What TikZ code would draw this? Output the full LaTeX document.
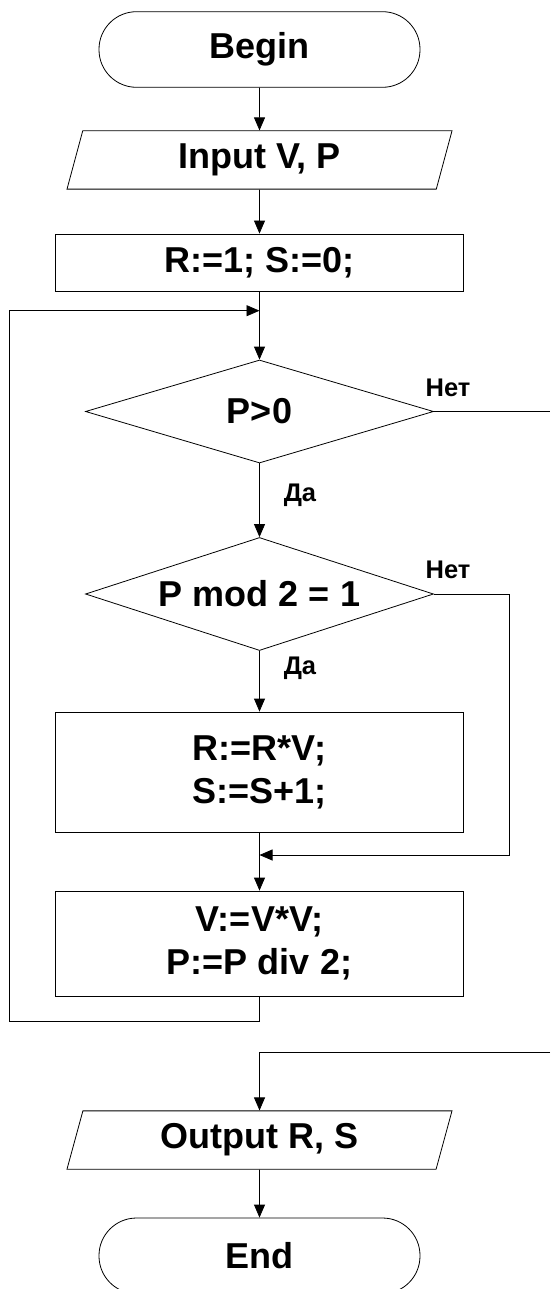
\documentclass[tikz,border=0pt]{standalone}
\usepackage{fontspec}
\setmainfont{Liberation Sans}
\usetikzlibrary{shapes,arrows.meta,positioning}

\begin{document}
\begin{tikzpicture}[x=1pt,y=-1pt]
          \useasboundingbox (0,0) rectangle (550,1289);
          \tikzstyle{every node}=[font=\fontsize{36}{43}\selectfont\bfseries, inner sep=0pt, line width=0.8pt]
          \tikzstyle{term}=[draw, rounded corners=37.5pt, minimum width=321pt, minimum height=75.6pt]
          \tikzstyle{io}=[draw, trapezium, trapezium left angle=64, trapezium right angle=116, trapezium stretches body, minimum width=385pt, minimum height=58.3pt]
          \tikzstyle{proc}=[draw, minimum width=408pt, align=center]
          \tikzstyle{test}=[draw, diamond, aspect=3.1, minimum width=348pt]
          \tikzstyle{lbl}=[font=\fontsize{25.5}{30}\selectfont\bfseries]
          \tikzstyle{flow}=[-{Triangle[length=13pt,width=11pt]}, line width=0.8pt]

          % main column
          \node[term] (begin) at (259.5,49.5) {Begin};
          \node[io] (inp) at (259.5,160) {Input V, P};
          \node[proc, minimum height=57pt] (init) at (259.5,262.5) {R:=1; S:=0;};
          \node[test, minimum height=103pt] (cond1) at (259.5,411.5) {P>0};
          \node[test, minimum height=113pt] (cond2) at (259.5,594) {P mod 2 = 1};
          \node[proc, minimum height=120pt] (body) at (259.5,772) {R:=R*V;\\S:=S+1;};
          \node[proc, minimum height=105pt] (halve) at (259.5,943.5) {V:=V*V;\\P:=P div 2;};
          \node[io] (outp) at (259.5,1140) {Output R, S};
          \node[term] (fin) at (259.5,1255.8) {End};

          % branch labels
          \node[lbl] (no1) at (448,388) {Нет};
          \node[lbl] (yes1) at (300,495) {Да};
          \node[lbl] (no2) at (448,570) {Нет};
          \node[lbl] (yes2) at (300,668) {Да};

          % helper points
          \coordinate (back) at (259.5,310.7);
          \coordinate (loopL) at (9.3,1021.7);
          \coordinate (join) at (259.5,855);
          \coordinate (rjoin) at (509,855);
          \coordinate (offA) at (550,411.5);
          \coordinate (offB) at (550,1052);

          \draw[flow] (begin) -- (inp);
          \draw[flow] (inp) -- (init);
          \draw[flow] (init) -- (cond1);
          \draw[flow] (cond1) -- (cond2);
          \draw[flow] (cond2) -- (body);
          \draw[flow] (body) -- (halve);
          \draw[flow] (outp) -- (fin);

          % loops and exits
          \draw[flow] (cond2.east) -| (rjoin) -- (join);
          \draw[flow] (halve.south) |- (loopL) |- (back);
          \draw[line width=0.8pt] (cond1.east) -- (offA);
          \draw[flow] (offB) -| (outp.north);
\end{tikzpicture}
\end{document}
